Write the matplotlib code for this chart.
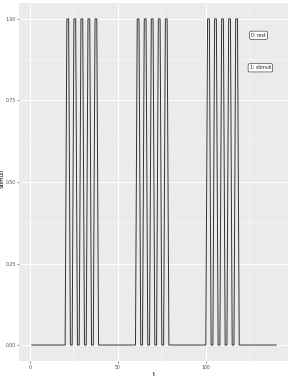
import numpy as np
import matplotlib
matplotlib.use("Agg")
import matplotlib.pyplot as plt

# stimulus time course: t = 1..140, three blocks of five 2-step pulses
t = list(range(1, 141))
block_onsets = [20, 60, 100]
pulse_offsets = [1, 2, 5, 6, 9, 10, 13, 14, 17, 18]
on_times = [b + o for b in block_onsets for o in pulse_offsets]
stimuli = [1 if ti in on_times else 0 for ti in t]

labels = ["0: rest", "1: stimuli"]
label_x = [130, 131]
label_y = [0.95, 0.85]

fig = plt.figure(figsize=(2.91, 3.76), dpi=100)
ax = fig.add_axes([0.067, 0.039, 0.924, 0.954])
ax.set_facecolor("#EBEBEB")

ax.plot(t, stimuli, color="#333333", lw=0.7, solid_joinstyle="round")

for lab, x, y in zip(labels, label_x, label_y):
    ax.text(x, y, lab, fontsize=3.3, ha="center", va="center", color="#222222",
            bbox=dict(boxstyle="round,pad=0.35,rounding_size=0.3",
                      fc="white", ec="#222222", lw=0.4))

ax.set_xlim(-5.95, 146.95)
ax.set_ylim(-0.05, 1.05)
ax.set_xticks([0, 50, 100])
ax.set_xticks([25, 75, 125], minor=True)
ax.set_yticks([0, 0.25, 0.5, 0.75, 1.0])
ax.set_yticklabels(["0.00", "0.25", "0.50", "0.75", "1.00"])
ax.set_yticks([0.125, 0.375, 0.625, 0.875], minor=True)

ax.grid(True, which="major", color="white", lw=0.7)
ax.grid(True, which="minor", color="white", lw=0.35)
ax.set_axisbelow(True)
for s in ax.spines.values():
    s.set_visible(False)

ax.tick_params(which="major", length=1.5, width=0.4, color="#333333",
               labelsize=3.3, labelcolor="#4D4D4D", pad=1)
ax.tick_params(which="minor", length=0)

ax.set_xlabel("t", fontsize=4, labelpad=1.5)
ax.set_ylabel("Stimuli", fontsize=4)
ax.yaxis.set_label_coords(-0.054, 0.51)

fig.savefig("out.png", dpi=100)
